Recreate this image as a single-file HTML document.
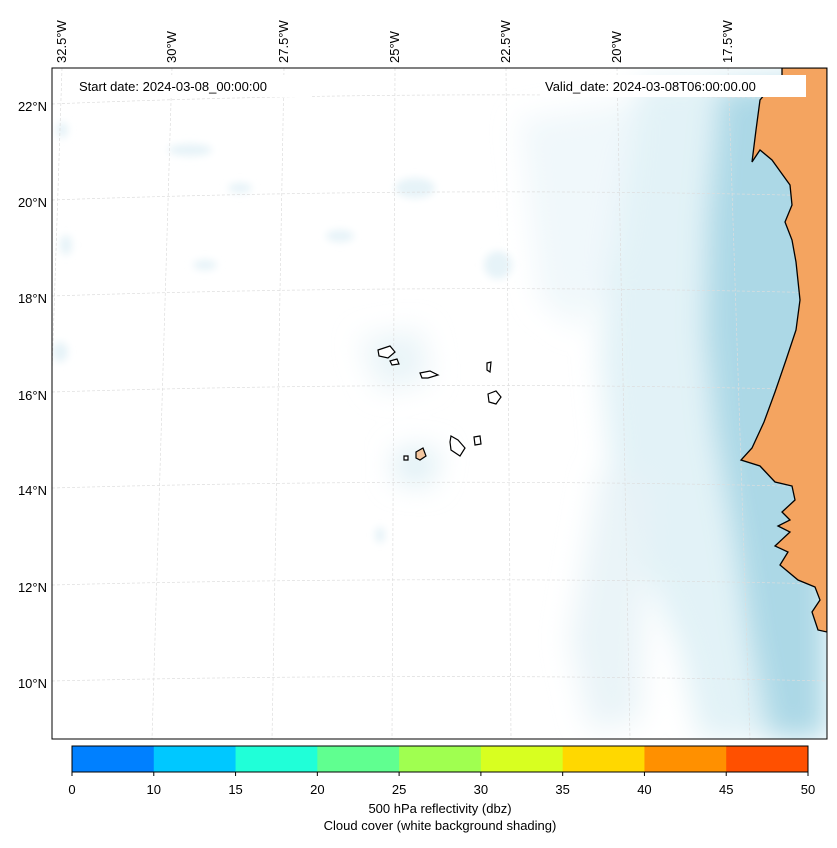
<!DOCTYPE html>
<html><head><meta charset="utf-8"><style>
body{margin:0;background:#fff;font-family:"Liberation Sans",sans-serif;}
svg text{font-family:"Liberation Sans",sans-serif;}
</style></head><body>
<svg width="837" height="843" viewBox="0 0 837 843">
<defs>
<filter id="blur" x="-20%" y="-20%" width="140%" height="140%"><feGaussianBlur stdDeviation="14"/></filter>
<filter id="blur2" x="-50%" y="-50%" width="200%" height="200%"><feGaussianBlur stdDeviation="4"/></filter>
<clipPath id="mapclip"><rect x="52" y="68" width="775" height="671"/></clipPath>
</defs>
<g clip-path="url(#mapclip)">
<rect x="52" y="68" width="775" height="671" fill="#fff"/>
<g filter="url(#blur)">
<path d="M640 80 L827 70 L827 739 L700 739 L680 650 L640 560 L610 460 L600 360 L605 270 L620 180 Z" fill="#d6ecf3" opacity="0.7"/>
<path d="M720 90 L827 80 L827 739 L770 739 L750 640 L735 540 L715 430 L705 330 L708 220 Z" fill="#acd8e6"/>
<path d="M520 120 L640 100 L620 250 L580 330 L540 300 Z" fill="#eaf5f9" opacity="0.7"/>
<path d="M360 340 L420 330 L430 380 L380 390 Z" fill="#e9f4f8"/>
<path d="M395 450 L440 450 L430 485 L395 480 Z" fill="#dceef4"/>
<path d="M600 470 L650 480 L640 720 L590 730 L570 640 Z" fill="#e8f3f7" opacity="0.9"/>
</g>
<g filter="url(#blur2)" fill="#e6f3f8">
<ellipse cx="190" cy="150" rx="22" ry="6"/><ellipse cx="240" cy="188" rx="12" ry="5"/>
<ellipse cx="415" cy="188" rx="20" ry="10"/><ellipse cx="340" cy="236" rx="14" ry="6"/>
<ellipse cx="205" cy="265" rx="12" ry="5"/><ellipse cx="66" cy="245" rx="6" ry="10"/>
<ellipse cx="60" cy="352" rx="8" ry="10"/><ellipse cx="498" cy="265" rx="14" ry="14"/>
<ellipse cx="380" cy="535" rx="5" ry="8"/><ellipse cx="62" cy="130" rx="6" ry="8"/>
</g>
<g stroke="#ddd" stroke-width="0.7" stroke-dasharray="3,2" fill="none">
<path d="M52 104 Q440 88 827 100"/><path d="M52 200 Q440 186 827 196"/><path d="M52 296 Q440 283 827 293"/>
<path d="M52 392 Q440 380 827 390"/><path d="M52 488 Q440 477 827 487"/><path d="M52 585 Q440 575 827 584"/>
<path d="M52 681 Q440 672 827 681"/>
<path d="M62 68 L40 739"/><path d="M172 68 L152 739"/><path d="M284 68 L272 739"/><path d="M395 68 L392 739"/>
<path d="M506 68 L511 739"/><path d="M617 68 L630 739"/><path d="M728 68 L750 739"/>
</g>
<path fill="#f4a460" stroke="#000" stroke-width="1.3" d="M782 68 L782 76 L770 88 L760 100 L756 130 L752 162 L760 150 L772 160 L790 185 L792 205 L785 222 L792 240 L796 262 L800 300 L796 330 L786 360 L775 392 L764 422 L752 448 L741 460 L760 466 L775 482 L792 486 L795 500 L782 512 L790 520 L778 526 L790 532 L775 546 L788 552 L780 565 L798 580 L815 587 L820 600 L812 612 L818 630 L827 632 L827 68 Z"/>
<g fill="#fff" stroke="#000" stroke-width="1.2">
<path d="M378 350 L390 346 L395 352 L388 358 L379 356 Z"/>
<path d="M390 361 L397 359 L399 364 L392 365 Z"/>
<path d="M420 373 L430 371 L438 375 L428 378 L422 378 Z"/>
<path d="M487 363 L491 362 L490 372 L487 370 Z"/>
<path d="M488 394 L496 391 L501 397 L496 404 L489 402 Z"/>
<path d="M451 436 L458 440 L465 448 L460 456 L451 450 L450 442 Z"/>
<path d="M474 437 L480 436 L481 444 L475 445 Z"/>
<path d="M416 452 L423 448 L426 456 L420 460 L416 458 Z" fill="#f4c7a0"/>
<path d="M404 456 L408 456 L408 460 L404 460 Z"/>
</g>
<rect x="72" y="75" width="240" height="22" fill="#fff"/>
<text x="79" y="91" font-size="13">Start date: 2024-03-08_00:00:00</text>
<rect x="540" y="75" width="266" height="22" fill="#fff"/>
<text x="545" y="91" font-size="13">Valid_date: 2024-03-08T06:00:00.00</text>
</g>
<rect x="52" y="68" width="775" height="671" fill="none" stroke="#000" stroke-width="1"/>
<g font-size="13" text-anchor="end">
<text x="47" y="111">22°N</text><text x="47" y="207">20°N</text><text x="47" y="303">18°N</text>
<text x="47" y="400">16°N</text><text x="47" y="495">14°N</text><text x="47" y="592">12°N</text><text x="47" y="688">10°N</text>
</g>
<g font-size="13" id="lonlabels"></g>
<g id="colorbar"></g>
<text x="440" y="813" font-size="13" text-anchor="middle">500 hPa reflectivity (dbz)</text>
<text x="440" y="830" font-size="13" text-anchor="middle">Cloud cover (white background shading)</text>
</svg>
<script>
const lonLabels=["32.5°W","30°W","27.5°W","25°W","22.5°W","20°W","17.5°W"];
const lonX=[62,172,284,395,506,617,728];
const levels=[0,10,15,20,25,30,35,40,45,50];
const colors=["#0080ff","#00c8ff","#20ffd8","#60ff90","#a0ff50","#d8ff20","#ffd800","#ff9000","#ff5000"];
const NS="http://www.w3.org/2000/svg";
const lg=document.getElementById('lonlabels');
lonLabels.forEach((t,i)=>{const e=document.createElementNS(NS,'text');


e.setAttribute('transform',`translate(${lonX[i]+4},63) rotate(-90)`);e.textContent=t;lg.appendChild(e);});
const cb=document.getElementById('colorbar');
const x0=72,x1=808,n=colors.length,w=(x1-x0)/n;
colors.forEach((c,i)=>{const r=document.createElementNS(NS,'rect');


r.setAttribute('x',x0+i*w);r.setAttribute('y',746);r.setAttribute('width',w+0.5);r.setAttribute('height',26);r.setAttribute('fill',c);cb.appendChild(r);});
const fr=document.createElementNS(NS,'rect');fr.setAttribute('x',x0);fr.setAttribute('y',746);fr.setAttribute('width',x1-x0);fr.setAttribute('height',26);fr.setAttribute('fill','none');fr.setAttribute('stroke','#000');cb.appendChild(fr);
levels.forEach((v,i)=>{const x=x0+i*w;
const l=document.createElementNS(NS,'line');l.setAttribute('x1',x);l.setAttribute('x2',x);l.setAttribute('y1',772);l.setAttribute('y2',776);l.setAttribute('stroke','#000');cb.appendChild(l);
const t=document.createElementNS(NS,'text');


t.setAttribute('x',x);t.setAttribute('y',794);t.setAttribute('font-size','13');t.setAttribute('text-anchor','middle');t.textContent=v;cb.appendChild(t);});
</script>
</body></html>
